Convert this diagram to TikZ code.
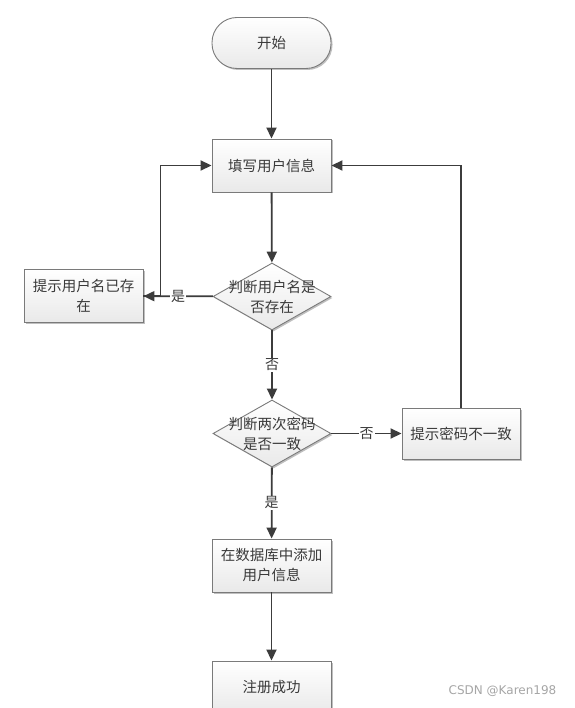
\documentclass[tikz,border=0pt]{standalone}
\usepackage{fontspec}
\newfontfamily\cjk{Noto Sans CJK SC}
\newfontfamily\wmfont{DejaVu Sans}
\usetikzlibrary{shapes.geometric,shadows,arrows.meta}
\definecolor{linec}{HTML}{3C3C3C}
\definecolor{borderc}{HTML}{7A7A7A}
\definecolor{textc}{HTML}{3A3A3A}
\definecolor{fillc}{HTML}{E9E9E9}
\begin{document}
\begin{tikzpicture}[x=1pt,y=-1pt,
  shape base/.style={draw=borderc, line width=0.9pt, top color=white, bottom color=fillc,
    text=textc, align=center, font=\cjk\fontsize{14.5}{20}\selectfont,
    drop shadow={shadow xshift=1.5pt, shadow yshift=-1.5pt, opacity=0.25, fill=black}},
  procbox/.style={shape base, rectangle, minimum width=119pt, minimum height=53pt, inner sep=1pt},
  termbox/.style={shape base, rectangle, rounded corners=25pt, minimum width=119pt, minimum height=51pt},
  decbox/.style={shape base, diamond, minimum width=118pt, minimum height=67pt, inner sep=0pt},
  dtext/.style={font=\cjk\fontsize{14.5}{20}\selectfont, text=textc, align=center},
  conn/.style={draw=linec, line width=1.8pt, -{Triangle[length=11pt,width=10pt]}},
  lbl/.style={fill=white, inner sep=1pt, font=\cjk\fontsize{14}{16}\selectfont, text=textc}
]
\useasboundingbox[fill=white] (0,0) rectangle (574,708);

\node[termbox] (start) at (271.5,43) {开始};
\node[procbox] (fill) at (271.5,165.5) {填写用户信息};
\node[decbox, label={[dtext]center:判断用户名是\\否存在}] (d1) at (272,296.5) {};
\node[procbox] (exist) at (83.5,296) {提示用户名已存\\在};
\node[decbox, label={[dtext]center:判断两次密码\\是否一致}] (d2) at (272,433.5) {};
\node[procbox, minimum width=118pt, minimum height=51pt] (pwd) at (461,433.5) {提示密码不一致};
\node[procbox] (db) at (271.5,565.5) {在数据库中添加\\用户信息};
\node[procbox] (ok) at (271.5,687.5) {注册成功};

\node[font=\wmfont\fontsize{12}{14}\selectfont, text=black!35] (wm) at (502.5,691) {CSDN @Karen198};

\draw[conn] (start) -- (fill);
\draw[conn] (fill) -- (d1);
\draw[conn] (d1) -- node[lbl]{是} (exist);
\draw[conn] (exist.east) -- ++(17,0) |- (fill.west);
\draw[conn] (d1) -- node[lbl]{否} (d2);
\draw[conn] (d2) -- node[lbl]{否} (pwd);
\draw[conn] (pwd.north) |- (fill.east);
\draw[conn] (d2) -- node[lbl]{是} (db);
\draw[conn] (db) -- (ok);
\end{tikzpicture}
\end{document}
